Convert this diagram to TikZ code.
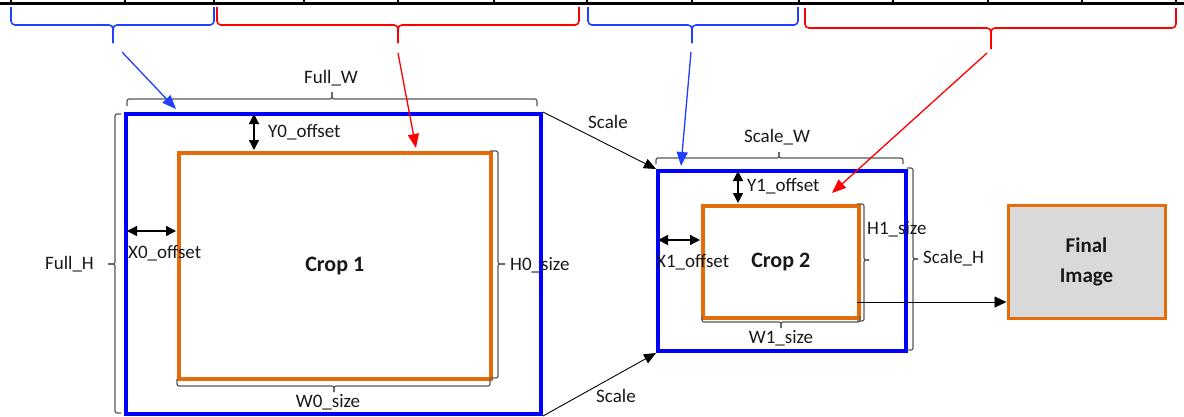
\documentclass[tikz,border=0pt]{standalone}
\usepackage{fontspec}
\setmainfont{Carlito}
\usetikzlibrary{arrows.meta}
\definecolor{bbox}{RGB}{0,0,255}
\definecolor{barrow}{RGB}{32,64,255}
\definecolor{rarrow}{RGB}{255,0,0}
\definecolor{orng}{RGB}{228,108,10}
\definecolor{brgray}{RGB}{89,89,89}
\definecolor{fgray}{RGB}{217,217,217}
\definecolor{txt}{RGB}{25,25,25}
% horizontal brace: [style]{x1}{x2}{xtip}{yend}{ymain}{ytip}
\newcommand{\hbr}[7][]{%
  \draw[#1] (#2,#5) |- (#4,#6) -- (#4,#7);
  \draw[#1] (#3,#5) |- (#4,#6) -- (#4,#7);}
% vertical brace: [style]{y1}{y2}{ytip}{xend}{xmain}{xtip}
\newcommand{\vbr}[7][]{%
  \draw[#1] (#5,#2) -| (#6,#4) -- (#7,#4);
  \draw[#1] (#5,#3) -| (#6,#4) -- (#7,#4);}
\begin{document}
\begin{tikzpicture}[x=1pt,y=-1pt,
  lbl/.style={inner sep=0pt, font=\fontsize{19}{22}\selectfont, text=txt},
  bluebox/.style={draw=bbox, line width=4pt, inner sep=0pt, anchor=north west},
  orngbox/.style={draw=orng, line width=3.5pt, inner sep=0pt, anchor=north west,
    font=\bfseries\fontsize{22}{26}\selectfont, text=txt},
  topbr/.style={line width=1.6pt, rounded corners=4pt},
  blkbr/.style={draw=brgray, line width=1.2pt, rounded corners=2pt},
  darr/.style={line width=1.4pt, {Triangle[length=10pt,width=10pt]}-{Triangle[length=10pt,width=10pt]}},
  sarr/.style={line width=0.9pt, -{Triangle[length=12pt,width=10pt]}},
  carr/.style={line width=1.3pt, -{Triangle[length=14pt,width=11pt]}}]
\useasboundingbox (0,0) rectangle (1184,416);
\fill[white] (0,0) rectangle (1184,416);

% top scale line
\draw[line width=2.5pt] (0,3.5) -- (1184,3.5);
\foreach \t in {11,125,214,304,398,494,587,692,799,893,988,1082,1176}
  \draw[line width=1.5pt] (\t,0) -- (\t,3.5);

% top braces
\hbr[topbr,draw=barrow]{11}{214}{113}{7}{25}{43}
\hbr[topbr,draw=rarrow]{217}{579}{398}{7}{25}{43}
\hbr[topbr,draw=barrow]{588}{798}{692}{7}{25}{43}
\hbr[topbr,draw=rarrow]{805}{1176}{991}{8}{28}{49}

% boxes
\node[bluebox, minimum width=415pt, minimum height=300pt] (full) at (124,112) {};
\node[orngbox, minimum width=312pt, minimum height=226pt] (crop1) at (177,151) {Crop 1};
\node[bluebox, minimum width=248pt, minimum height=180pt] (scaled) at (656,169) {};
\node[orngbox, minimum width=156pt, minimum height=112pt] (crop2) at (701,204) {Crop 2};
\node[draw=orng, line width=3pt, fill=fgray, inner sep=0pt, minimum width=157pt,
  minimum height=113pt, align=center, text=txt,
  font=\bfseries\fontsize{21}{30}\selectfont] (final) at (1086.5,261.5) {Final\\Image};

% black braces
\hbr[blkbr]{127}{537}{332}{106}{99}{92}
\vbr[blkbr]{114}{413}{264}{121}{115}{108}
\vbr[blkbr]{151}{378}{264}{490}{498}{505}
\hbr[blkbr]{177}{490}{334}{379}{386}{392}
\hbr[blkbr]{656}{903}{779}{164}{158}{152}
\vbr[blkbr]{168}{350}{259}{907}{913}{918}
\vbr[blkbr]{204}{321}{260}{857}{864}{869}
\hbr[blkbr]{702}{860}{781}{316}{322}{328}

% labels
\node[lbl] (lfullw) at (331,78) {Full\_W};
\node[lbl] (lfullh) at (69.5,264) {Full\_H};
\node[lbl, anchor=west] (ly0) at (268,132) {Y0\_offset};
\node[lbl, anchor=west] (lx0) at (128,253) {X0\_offset};
\node[lbl, anchor=west] (lh0) at (510,265) {H0\_size};
\node[lbl] (lw0) at (328,402) {W0\_size};
\node[lbl] (lscale1) at (608,122) {Scale};
\node[lbl] (lscale2) at (616,396) {Scale};
\node[lbl] (lscalew) at (777,137) {Scale\_W};
\node[lbl, anchor=west] (lscaleh) at (923,258) {Scale\_H};
\node[lbl, anchor=west] (ly1) at (747,186) {Y1\_offset};
\node[lbl, anchor=west] (lx1) at (656,262) {X1\_offset};
\node[lbl, anchor=west] (lh1) at (867,229) {H1\_size};
\node[lbl] (lw1) at (781,338) {W1\_size};

% offset arrows
\coordinate (y0a) at (254,114);
\coordinate (y0b) at (254,150);
\draw[darr] (y0a) -- (y0b);
\coordinate (x0a) at (127,231);
\coordinate (x0b) at (176,231);
\draw[darr] (x0a) -- (x0b);
\coordinate (y1a) at (738,171);
\coordinate (y1b) at (738,203);
\draw[darr] (y1a) -- (y1b);
\coordinate (x1a) at (658,240);
\coordinate (x1b) at (700,240);
\draw[darr] (x1a) -- (x1b);

% scale arrows
\draw[sarr] (full.north east) -- (scaled.north west);
\draw[sarr] (full.south east) -- (scaled.south west);

% crop2 -> final
\coordinate (c2out) at (857,302);
\draw[line width=0.9pt, -{Triangle[length=12pt,width=11pt]}] (c2out) -- (c2out -| final.west);

% coloured pointer arrows
\coordinate (bt1) at (122,52);
\coordinate (bh1) at (176,109);
\draw[carr, draw=barrow, fill=barrow] (bt1) -- (bh1);
\coordinate (rt1) at (398,53);
\coordinate (rh1) at (416,148);
\draw[carr, draw=rarrow, fill=rarrow] (rt1) -- (rh1);
\coordinate (bt2) at (691,52);
\coordinate (bh2) at (681,166);
\draw[carr, draw=barrow, fill=barrow] (bt2) -- (bh2);
\coordinate (rt2) at (987,53);
\coordinate (rh2) at (832,193);
\draw[carr, draw=rarrow, fill=rarrow] (rt2) -- (rh2);
\end{tikzpicture}
\end{document}
